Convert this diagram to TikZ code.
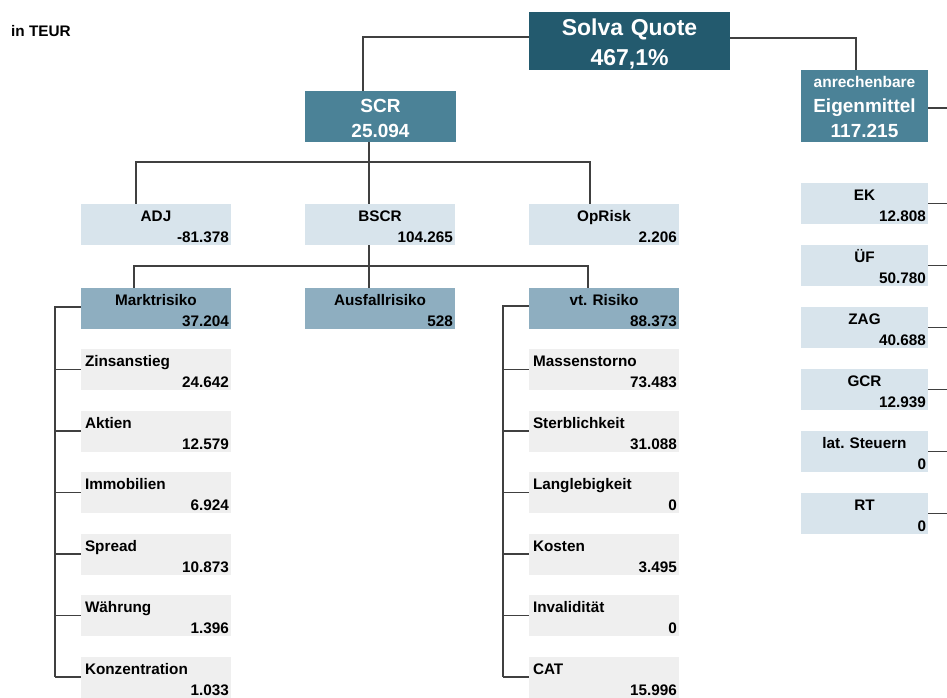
\documentclass[tikz,border=0pt]{standalone}
\usepackage{fontspec}
\setmainfont{Liberation Sans}
\frenchspacing

\definecolor{solvablue}{HTML}{235A6E}
\definecolor{scrblue}{HTML}{4B8297}
\definecolor{lightblue}{HTML}{D8E4EC}
\definecolor{riskblue}{HTML}{8EAEC0}
\definecolor{subgray}{HTML}{EFEFEF}

% label left or centred on top, value right at the bottom
\newcommand{\tileL}[2]{\rule{0pt}{17.5pt}\hspace{2pt}#1\hfill\mbox{}\\\mbox{}\hfill#2\rule[-2.5pt]{0pt}{2.5pt}}
\newcommand{\tileC}[2]{\rule{0pt}{17.5pt}\hfill#1\hfill\mbox{}\\\mbox{}\hfill#2\rule[-2.5pt]{0pt}{2.5pt}}

\tikzset{
  conn/.style={black!75, line width=1.3pt},
  tile/.style={rectangle, inner xsep=2pt, inner ysep=0pt, align=left,
    minimum height=41pt, font=\fontsize{15.3}{21}\selectfont\bfseries},
  midtile/.style={tile, text width=146pt},
  sidetile/.style={tile, text width=123pt, fill=lightblue},
  head/.style={rectangle, inner xsep=2pt, inner ysep=0pt, align=center,
    text=white, font=\bfseries},
}

\begin{document}
\begin{tikzpicture}[x=1pt,y=-1pt]
\useasboundingbox (0,0) rectangle (947,698);

\node[anchor=base west, inner sep=0pt, font=\fontsize{15.3}{21}\selectfont\bfseries] (unit) at (11,37) {in TEUR};

% top
\node[head, fill=solvablue, text width=197pt, minimum height=58pt,
  font=\fontsize{23}{29.7}\selectfont\bfseries] (sq) at (629.5,41)
  {\rule{0pt}{24pt}Solva Quote\\467,1\%\rule[-4.3pt]{0pt}{4.3pt}};
\node[head, fill=scrblue, text width=147pt, minimum height=51pt,
  font=\fontsize{19}{25}\selectfont\bfseries] (scr) at (380.5,116.5)
  {\rule{0pt}{21.7pt}SCR\\25.094\rule[-4.3pt]{0pt}{4.3pt}};
\node[head, fill=scrblue, text width=123pt, minimum height=72pt,
  font=\fontsize{19}{25}\selectfont\bfseries] (eig) at (864.5,106)
  {\rule{0pt}{17.3pt}{\fontsize{15.5}{25}\selectfont anrechenbare}\\Eigenmittel\\117.215\rule[-4.7pt]{0pt}{4.7pt}};

% SCR level
\node[midtile, fill=lightblue] (adj) at (156,224.5) {\tileC{ADJ}{-81.378}};
\node[midtile, fill=lightblue] (bscr) at (380,224.5) {\tileC{BSCR}{104.265}};
\node[midtile, fill=lightblue] (opr) at (604,224.5) {\tileC{OpRisk}{2.206}};

% BSCR level
\node[midtile, fill=riskblue] (mkt) at (156,308.5) {\tileC{Marktrisiko}{37.204}};
\node[midtile, fill=riskblue] (ausf) at (380,308.5) {\tileC{Ausfallrisiko}{528}};
\node[midtile, fill=riskblue] (vtr) at (604,308.5) {\tileC{vt. Risiko}{88.373}};

\coordinate (bus1) at (369,162);
\coordinate (bus2) at (369,266);
\coordinate (mrail) at (55,0);
\coordinate (vrail) at (503,0);
\coordinate (edge) at (947,0);

\draw[conn] ([yshift=4pt]sq.west) -| ([xshift=-17.5pt]scr.north);
\draw[conn] ([yshift=3pt]sq.east) -| ([xshift=-8.5pt]eig.north);
\draw[conn] ([yshift=-2pt]eig.east) -- ([yshift=-2pt]eig.east -| edge);

\draw[conn] ([xshift=-11.5pt]scr.south) -- ([xshift=-11pt]bscr.north);
\draw[conn] ([xshift=-20pt]adj.north) |- (bus1) -| ([xshift=-14pt]opr.north);
\draw[conn] ([xshift=-11pt]bscr.south) -- ([xshift=-11pt]ausf.north);
\draw[conn] ([xshift=-22pt]mkt.north) |- (bus2) -| ([xshift=-16pt]vtr.north);

% market risk
\foreach \name/\lab/\val [count=\i from 0] in {zins/Zinsanstieg/24.642,
  akt/Aktien/12.579, immo/Immobilien/6.924, spr/Spread/10.873,
  wae/Währung/1.396, konz/Konzentration/1.033}
{
  \node[midtile, fill=subgray] (\name) at (156,{369.5+61.5*\i}) {\tileL{\lab}{\val}};
  \draw[conn] (\name.west) -- (\name.west -| mrail);
}
\draw[conn] ([yshift=1.5pt]mkt.west) -| (mrail |- konz.west);

% underwriting risk
\foreach \name/\lab/\val [count=\i from 0] in {storno/Massenstorno/73.483,
  sterb/Sterblichkeit/31.088, lang/Langlebigkeit/0, kost/Kosten/3.495,
  inv/Invalidität/0, cat/CAT/15.996}
{
  \node[midtile, fill=subgray] (\name) at (604,{369.5+61.5*\i}) {\tileL{\lab}{\val}};
  \draw[conn] (\name.west) -- (\name.west -| vrail);
}
\draw[conn] ([yshift=2.5pt]vtr.west) -| (vrail |- cat.west);

% own funds
\foreach \name/\lab/\val [count=\i from 0] in {ek/EK/12.808, uef/ÜF/50.780,
  zag/ZAG/40.688, gcr/GCR/12.939, lst/lat. Steuern/0, rt/RT/0}
{
  \node[sidetile] (\name) at (864.5,{203.5+62*\i}) {\tileC{\lab}{\val}};
  \draw[conn] (\name.east) -- (\name.east -| edge);
}
\end{tikzpicture}
\end{document}
